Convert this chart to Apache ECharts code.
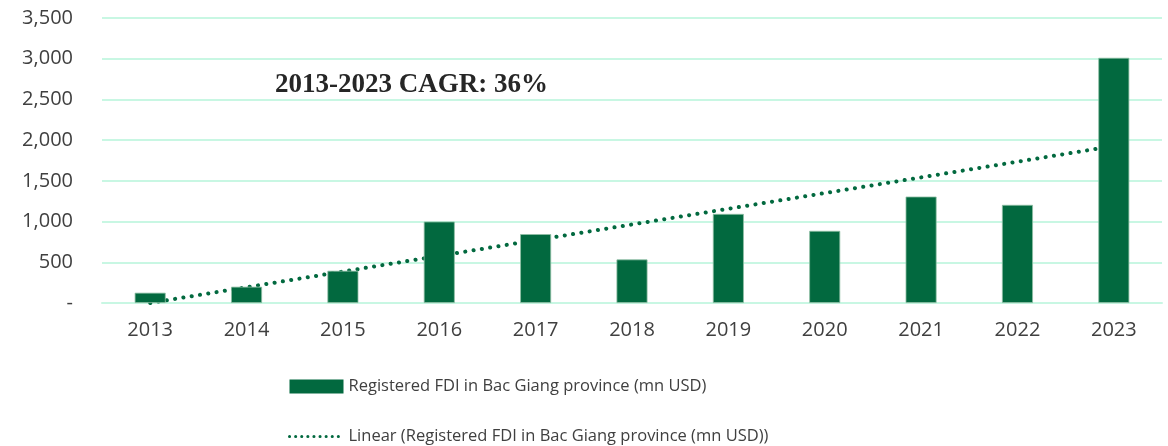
<!DOCTYPE html>
<html>
<head>
<meta charset="utf-8">
<script src="https://cdn.jsdelivr.net/npm/echarts@6/dist/echarts.min.js"></script>
<style>
  html, body { margin: 0; padding: 0; background: #fff; }
  #chart { width: 1168px; height: 446px; }
</style>
</head>
<body>
<div id="chart"></div>
<script>
// Registered FDI in Bac Giang province, mn USD
const years = ['2013', '2014', '2015', '2016', '2017', '2018', '2019', '2020', '2021', '2022', '2023'];
const fdi = [126, 200, 396, 1000, 846, 535, 1094, 886, 1307, 1205, 3011];
const barName = 'Registered FDI in Bac Giang province (mn USD)';
const trendName = 'Linear (Registered FDI in Bac Giang province (mn USD))';
const cagrText = '2013-2023 CAGR: 36%';

// Least-squares linear trend over the yearly values
function linearTrend(values) {
  const n = values.length;
  let sx = 0, sy = 0, sxy = 0, sxx = 0;
  values.forEach((y, i) => { const x = i + 1; sx += x; sy += y; sxy += x * y; sxx += x * x; });
  const slope = (n * sxy - sx * sy) / (n * sxx - sx * sx);
  const icpt = (sy - slope * sx) / n;
  return values.map((_, i) => +(icpt + slope * (i + 1)).toFixed(1));
}
const trend = linearTrend(fdi);

const green = '#02693F';
const gridColor = '#C8F7E3';
const textColor = '#404040';
const font = '"Open Sans", "Noto Sans", sans-serif';

const chart = echarts.init(document.getElementById('chart'), null, { renderer: 'canvas' });
chart.setOption({
  animation: false,
  grid: { left: 102, right: 6, top: 18, bottom: 143 },
  xAxis: {
    type: 'category',
    data: years,
    axisLine: { show: true, lineStyle: { color: gridColor, width: 2 } },
    axisTick: { show: false },
    axisLabel: { color: textColor, fontSize: 20, fontFamily: font, margin: 17 }
  },
  yAxis: {
    type: 'value',
    min: 0, max: 3500, interval: 500,
    axisLine: { show: false },
    axisTick: { show: false },
    splitLine: { lineStyle: { color: gridColor, width: 2 } },
    axisLabel: {
      color: textColor, fontSize: 20, fontFamily: font, margin: 29,
      formatter: v => v === 0 ? '-' : v.toLocaleString('en-US')
    }
  },
  legend: {
    orient: 'vertical',
    left: 288, top: 378, padding: 0,
    itemWidth: 54, itemHeight: 14, itemGap: 33,
    textStyle: { color: textColor, fontSize: 16.5, fontFamily: font },
    data: [
      { name: barName, icon: 'rect', itemStyle: { borderWidth: 0 } },
      { name: trendName, itemStyle: { opacity: 0 }, lineStyle: { type: [0.1, 6], width: 3, cap: 'round' } }
    ]
  },
  graphic: [{
    type: 'text',
    left: 275, top: 72,
    style: {
      text: cagrText,
      font: 'bold 27px "Liberation Serif", "Times New Roman", serif',
      fill: '#262626'
    }
  }],
  series: [
    {
      name: trendName,
      type: 'line',
      data: trend,
      symbol: 'none',
      z: 1,
      lineStyle: { color: green, width: 4, type: [0.1, 8.3], cap: 'round' },
      itemStyle: { color: green }
    },
    {
      name: barName,
      type: 'bar',
      data: fdi,
      barWidth: 31,
      z: 2,
      itemStyle: { color: green, borderColor: '#8FBFA5', borderWidth: 0.8 }
    }
  ]
});
</script>
</body>
</html>
